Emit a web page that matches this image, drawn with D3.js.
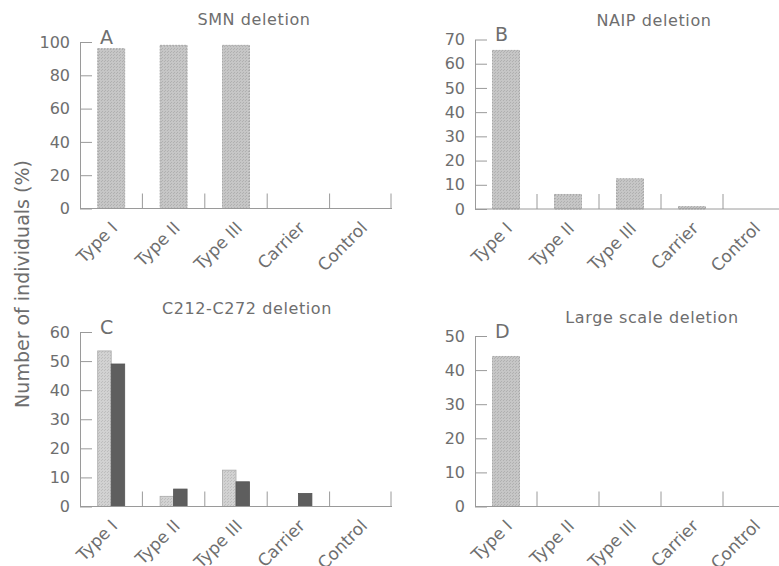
<!DOCTYPE html>
<html><head><meta charset="utf-8">
<script src="https://d3js.org/d3.v7.min.js"></script>
<style>body{margin:0;background:#fff;} text{font-family:"DejaVu Sans",sans-serif;}</style>
</head><body>
<script>
const categories = ["Type I", "Type II", "Type III", "Carrier", "Control"];
const smnValues = [96, 98, 98, 0, 0];
const naipValues = [65.5, 6, 12.5, 1, 0];
const c212LightValues = [53.5, 3.5, 12.5, 0, 0];
const c212DarkValues = [49, 6, 8.5, 4.5, 0];
const largeValues = [44, 0, 0, 0, 0];
const ticksA = [0, 20, 40, 60, 80, 100];
const ticksB = [0, 10, 20, 30, 40, 50, 60, 70];
const ticksC = [0, 10, 20, 30, 40, 50, 60];
const ticksD = [0, 10, 20, 30, 40, 50];

const W = 779, H = 566;
const textCol = "#6e6e6e", axisCol = "#9a9a9a";
const svg = d3.select("body").append("svg").attr("width", W).attr("height", H);

const defs = svg.append("defs");
function stipple(id, base, dot) {
  const p = defs.append("pattern").attr("id", id).attr("patternUnits", "userSpaceOnUse")
    .attr("width", 3).attr("height", 3);
  p.append("rect").attr("width", 3).attr("height", 3).attr("fill", base);
  p.append("rect").attr("x", 0).attr("y", 0).attr("width", 1).attr("height", 1).attr("fill", dot);
  p.append("rect").attr("x", 2).attr("y", 1).attr("width", 1).attr("height", 1).attr("fill", dot);
}
stipple("lightA", "#c6c6c6", "#b0b0b0");
stipple("lightC", "#d2d2d2", "#bdbdbd");

const panels = [
  {title: "SMN deletion", letter: "A", series: [{v: smnValues, fill: "url(#lightA)", stroke: "#999"}], ticks: ticksA, max: 100,
   x0: 80, x1: 392, y0: 208.5, y1: 42, tx: 254, ty: 25},
  {title: "NAIP deletion", letter: "B", series: [{v: naipValues, fill: "url(#lightA)", stroke: "#999"}], ticks: ticksB, max: 70,
   x0: 475, x1: 785, y0: 209, y1: 39.5, tx: 654, ty: 26},
  {title: "C212-C272 deletion", letter: "C", series: [{v: c212LightValues, fill: "url(#lightC)", stroke: "#aaa"}, {v: c212DarkValues, fill: "#5e5e5e", stroke: "#555"}], ticks: ticksC, max: 60,
   x0: 80, x1: 392, y0: 506.5, y1: 332, tx: 247, ty: 314},
  {title: "Large scale deletion", letter: "D", series: [{v: largeValues, fill: "url(#lightA)", stroke: "#999"}], ticks: ticksD, max: 50,
   x0: 475, x1: 785, y0: 506.5, y1: 336, tx: 652, ty: 323}
];

panels.forEach(p => {
  const g = svg.append("g");
  const x = d3.scaleBand().domain(categories).range([p.x0, p.x1]);
  const y = d3.scaleLinear().domain([0, p.max]).range([p.y0, p.y1]);

  const barW = 27;
  const n = p.series.length;
  p.series.forEach((s, si) => {
    const w = barW / n;
    g.selectAll(null).data(categories.map((c, i) => ({c, v: s.v[i]})).filter(d => d.v > 0))
      .enter().append("rect")
      .attr("x", d => x(d.c) + x.bandwidth() / 2 - barW / 2 + si * w)
      .attr("y", d => y(d.v))
      .attr("width", w)
      .attr("height", d => y(0) - y(d.v))
      .attr("fill", s.fill)
      .attr("stroke", s.stroke).attr("stroke-width", 0.8)
      .attr("stroke-dasharray", si === 0 && n === 1 ? "2,1" : null);
  });

  const ax = g.append("g").attr("transform", `translate(${p.x0},0)`)
    .call(d3.axisLeft(y).tickValues(p.ticks).tickSizeInner(-12).tickSizeOuter(0).tickPadding(10));
  ax.select(".domain").attr("stroke", axisCol);
  ax.selectAll(".tick line").attr("stroke", axisCol);
  ax.selectAll(".tick text").attr("fill", textCol).style("font-size", "16px").style("font-family", "DejaVu Sans");

  g.append("line").attr("x1", p.x0).attr("x2", p.x1).attr("y1", y(0)).attr("y2", y(0)).attr("stroke", axisCol);
  g.selectAll(null).data(categories.slice(1).concat(["__end"])).enter().append("line")
    .attr("x1", (d, i) => i < 4 ? x(d) : p.x1 - 1).attr("x2", (d, i) => i < 4 ? x(d) : p.x1 - 1)
    .attr("y1", y(0)).attr("y2", y(0) - 15).attr("stroke", axisCol);

  g.selectAll(null).data(categories).enter().append("text")
    .attr("transform", d => `translate(${x(d) + x.bandwidth() / 2 - 1},${y(0) + 12}) rotate(-45)`)
    .attr("text-anchor", "end").attr("dy", "0.7em")
    .attr("fill", textCol).style("font-size", "17px").text(d => d);

  g.append("text").attr("x", p.tx).attr("y", p.ty).attr("text-anchor", "middle")
    .attr("fill", textCol).style("font-size", "16px").style("letter-spacing", "0.6px").text(p.title);
  g.append("text").attr("x", p.x0 + 20).attr("y", y(p.max)).attr("dy", "0.1em")
    .attr("fill", textCol).style("font-size", "19px").text(p.letter);
});

svg.append("text").attr("transform", "translate(29,284) rotate(-90)")
  .attr("text-anchor", "middle").attr("fill", textCol).style("font-size", "19px")
  .text("Number of individuals (%)");
</script>
</body></html>
